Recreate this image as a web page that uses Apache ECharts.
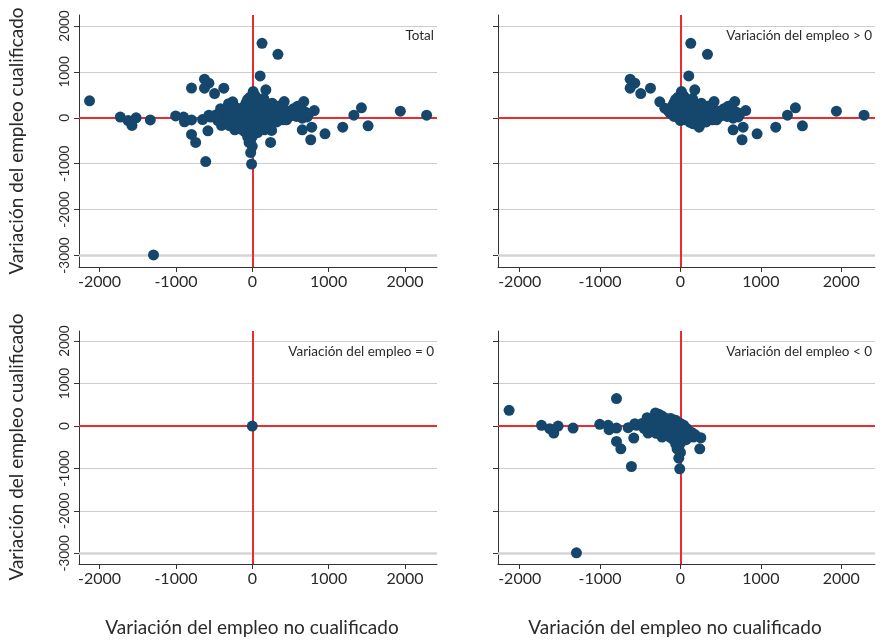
<!DOCTYPE html>
<html><head><meta charset="utf-8">
<script src="https://cdn.jsdelivr.net/npm/echarts@6/dist/echarts.min.js"></script>
<style>html,body{margin:0;padding:0;background:#fff}#c{width:880px;height:642px}</style>
</head><body><div id="c"></div>
<script>
const xTicks = [-2000, -1000, 0, 1000, 2000];
const yTicks = [-3000, -2000, -1000, 0, 1000, 2000];
const panelTitles = ['Total', 'Variación del empleo > 0', 'Variación del empleo = 0', 'Variación del empleo < 0'];
const xTitle = 'Variación del empleo no cualificado';
const yTitle = 'Variación del empleo cualificado';

// Variación del empleo > 0
const positivos = [
  [128,1623],[336,1384],[103,913],[-626,841],[-568,754],[-626,645],[-494,529],[-373,645],
  [-257,348],[-195,210],[12,572],[178,609],[418,355],[675,355],[588,246],[812,159],
  [655,-7],[779,-203],[655,-261],[766,-478],[953,-348],[1185,-203],[1331,58],[1430,217],
  [1517,-174],[1940,145],[2284,58],[232,-203],[398,-43],[448,-43],
  [-120,180],[-100,260],[-80,330],[-60,400],[-30,450],[0,380],[20,300],[40,480],
  [60,420],[90,350],[110,270],[130,200],[150,420],[170,330],[-130,100],[-90,120],
  [-50,200],[-20,150],[0,220],[30,130],[60,200],[80,90],[100,160],[140,120],
  [180,200],[200,260],[220,150],[250,100],[280,180],[300,60],[320,140],[350,20],
  [370,110],[400,180],[430,80],[460,150],[480,20],[500,100],[530,60],[560,150],
  [580,30],[620,90],[650,180],[680,50],[700,120],[720,20],[740,90],
  [-40,40],[-10,-20],[20,50],[50,-40],[80,10],[110,-60],[140,30],[170,-80],
  [200,-20],[230,-120],[260,-60],[290,-10],[320,-90],[160,-130],[240,-150],[120,-100],
  [0,-60],[-80,30],[-150,150],[-60,80],[40,250],[260,320],[300,240],[350,260],
  [540,200],[610,260]
];
// Variación del empleo = 0
const nulos = [[0,0]];
// Variación del empleo < 0
const negativos = [
  [-2132,371],[-1729,17],[-1626,-61],[-1576,-165],[-1522,0],[-1336,-47],[-1004,40],[-900,17],
  [-888,-86],[-796,648],[-796,-47],[-796,-362],[-742,-535],[-610,-953],[-1294,-2986],[-651,-39],
  [-581,-283],[-547,17],[-415,198],[-403,-165],[-311,308],[-257,253],[-229,-260],[-21,-756],
  [-9,-1008],[253,-275],[240,-535],[-42,-535],[-568,57],[-382,-23],[-269,277],
  [-350,60],[-320,150],[-300,0],[-280,200],[-250,100],[-230,-50],[-200,180],[-190,130],
  [-170,20],[-160,-120],[-160,170],[-130,80],[-120,-40],[-110,-180],[-100,130],[-90,50],
  [-80,-90],[-70,-230],[-60,110],[-50,0],[-40,-140],[-30,-300],[-20,60],[-10,-60],
  [0,-200],[10,-380],[20,30],[30,-100],[40,-250],[50,-40],[60,-160],[70,-320],
  [80,-60],[100,-120],[120,-200],[140,-150],[160,-260],[180,-200],[-60,-420],[-20,-480],
  [0,-620],[-100,-300],[-140,-250],[-200,-150],[-260,-100],[-330,-80],[-180,60],[-60,140],
  [-120,180],[0,60],[40,20],[-230,240],[-300,-170],[-480,60],[-450,-60]
];
const total = positivos.concat(nulos, negativos);
const panelData = [total, positivos, nulos, negativos];

const FONT = 'Lato';
const navy = '#15476c';
const red = '#ee2a2a';
const txt = '#2a2a2a';
const grids = [
  {left: 79, top: 15, width: 358, height: 252},
  {left: 498, top: 15, width: 377, height: 252},
  {left: 79, top: 331, width: 358, height: 233},
  {left: 498, top: 331, width: 377, height: 233}
];
const plain = v => String(Math.round(v));
const xAxes = [], yAxes = [], series = [], graphics = [];
grids.forEach((g, i) => {
  xAxes.push({
    type: 'value', gridIndex: i, min: -2270, max: 2420,
    axisLine: {show: true, onZero: false, lineStyle: {color: '#333', width: 1}},
    axisTick: {show: true, length: 5, customValues: xTicks, lineStyle: {color: '#333'}},
    axisLabel: {customValues: xTicks, formatter: plain, hideOverlap: false, showMinLabel: true, showMaxLabel: true,
      color: txt, fontFamily: FONT, fontSize: 16, margin: 7},
    splitLine: {show: false}
  });
  const left = (i % 2 === 0);
  yAxes.push({
    type: 'value', gridIndex: i, min: -3250, max: 2240,
    axisLine: {show: true, onZero: false, lineStyle: {color: '#333', width: 1}},
    axisTick: {show: true, length: 5, customValues: yTicks, lineStyle: {color: '#333'}},
    axisLabel: {show: left, customValues: yTicks, formatter: plain, hideOverlap: false, showMinLabel: true, showMaxLabel: true,
      rotate: 90, color: txt, fontFamily: FONT, fontSize: 13.5, margin: 7},
    splitLine: {show: true, lineStyle: {color: '#cccccc', width: 1}}
  });
  series.push({
    type: 'scatter', xAxisIndex: i, yAxisIndex: i, data: [], z: 1, silent: true,
    markLine: {
      silent: true, symbol: 'none', label: {show: false}, animation: false, z: 1,
      lineStyle: {color: red, width: 2, type: 'solid'},
      data: [
        {yAxis: yTicks[0], lineStyle: {color: '#d4d4d4', width: 2.5}},
        {xAxis: 0}, {yAxis: 0}
      ]
    }
  });
  series.push({
    type: 'scatter', xAxisIndex: i, yAxisIndex: i, data: panelData[i], z: 10,
    symbol: 'circle', symbolSize: 11, itemStyle: {color: navy, opacity: 1}
  });
  graphics.push({
    type: 'text', x: g.left + g.width - 3, y: g.top + 21,
    style: {text: panelTitles[i], font: '13.5px ' + FONT, fill: txt, textAlign: 'right', textVerticalAlign: 'middle'}
  });
});
// axis titles
graphics.push({type: 'text', x: 17, y: 141, rotation: Math.PI / 2,
  style: {text: yTitle, font: '19px ' + FONT, fill: txt, textAlign: 'center', textVerticalAlign: 'middle'}});
graphics.push({type: 'text', x: 17, y: 447, rotation: Math.PI / 2,
  style: {text: yTitle, font: '19px ' + FONT, fill: txt, textAlign: 'center', textVerticalAlign: 'middle'}});
graphics.push({type: 'text', x: 252, y: 628,
  style: {text: xTitle, font: '19px ' + FONT, fill: txt, textAlign: 'center', textVerticalAlign: 'middle'}});
graphics.push({type: 'text', x: 675, y: 628,
  style: {text: xTitle, font: '19px ' + FONT, fill: txt, textAlign: 'center', textVerticalAlign: 'middle'}});

const chart = echarts.init(document.getElementById('c'), null, {renderer: 'canvas'});
chart.setOption({
  animation: false,
  backgroundColor: '#fff',
  grid: grids,
  xAxis: xAxes,
  yAxis: yAxes,
  series: series,
  graphic: graphics
});
</script></body></html>
